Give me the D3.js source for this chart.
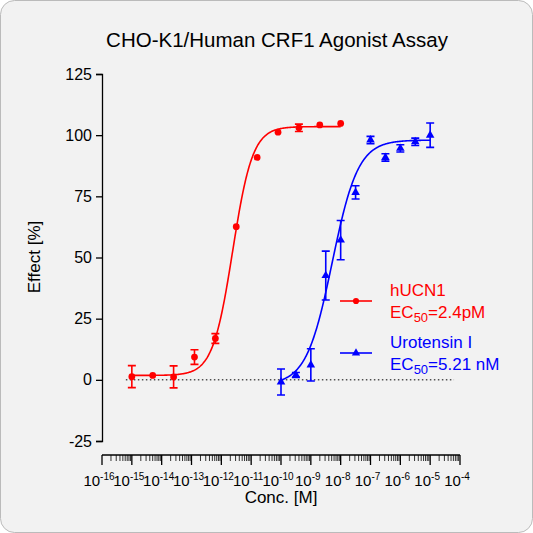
<!DOCTYPE html>
<html><head><meta charset="utf-8">
<script src="https://cdn.jsdelivr.net/npm/d3@7"></script>
<style>body{margin:0;background:#fff}svg{font-family:Arial,"Liberation Sans",sans-serif}</style>
</head><body><div id="chart"></div>
<script>
// red: hUCN1, 5-fold dilutions
var redLogC = [-15, -14.3, -13.6, -12.9, -12.2, -11.5, -10.8, -10.1, -9.4, -8.7, -8.0];
var redY = [1.3, 1.8, 1.2, 9.3, 16.9, 62.6, 90.9, 101.2, 103, 104.2, 104.8];
var redErr = [4.5, 0, 4.5, 3, 2, 0, 0, 0, 1.5, 0, 0];
var redFit = {bottom: 1.8, top: 103.5, logEC50: -11.62, hill: 1.3};
// blue: Urotensin I, half-log
var blueLogC = [-10, -9.5, -9, -8.5, -8, -7.5, -7, -6.5, -6, -5.5, -5];
var blueY = [-0.9, 2.0, 6.1, 42.6, 57.1, 76.6, 98, 90.9, 94.6, 97.3, 100];
var blueErr = [5.3, 1, 6.6, 10, 8, 2.7, 1.5, 1.5, 1.5, 1.5, 5];
var blueFit = {bottom: -2, top: 98, logEC50: -8.283, hill: 1.0};
var yTicks = [-25, 0, 25, 50, 75, 100, 125];
var xDecades = d3.range(-16, -3);

var W = 533, H = 533;
var svg = d3.select("#chart").append("svg").attr("width", W).attr("height", H);
svg.append("rect").attr("x", 0.5).attr("y", 0.5).attr("width", W - 1).attr("height", H - 1)
    .attr("rx", 14).attr("fill", "#f2f2f2").attr("stroke", "#bbb");

var x = d3.scaleLinear().domain([-16, -4]).range([102, 460]),
    y = d3.scaleLinear().domain([-25, 125]).range([441, 74]);

svg.append("text").attr("x", 277).attr("y", 47).attr("text-anchor", "middle")
    .attr("font-size", 20.5).text("CHO-K1/Human CRF1 Agonist Assay");

// y axis
svg.append("g").attr("transform", "translate(102,0)")
    .call(d3.axisLeft(y).tickValues(yTicks).tickFormat(d => String(d)).tickSize(6).tickPadding(4))
    .call(g => g.selectAll("text").attr("font-size", 16).attr("fill", "#000"))
    .call(g => g.selectAll("line,path").attr("stroke", "#000").attr("stroke-width", 1.3));
svg.append("text").attr("transform", "translate(40,257) rotate(-90)").attr("text-anchor", "middle")
    .attr("font-size", 17).text("Effect  [%]");

// x axis
var xa = svg.append("g");
var axY = 455;
xa.append("line").attr("x1", x(-16)).attr("x2", x(-4)).attr("y1", axY).attr("y2", axY)
    .attr("stroke", "#000").attr("stroke-width", 1.3);
xDecades.forEach(function(d) {
    xa.append("line").attr("x1", x(d)).attr("x2", x(d)).attr("y1", axY).attr("y2", axY + 10)
        .attr("stroke", "#000").attr("stroke-width", 1.3);
    if (d < -4) d3.range(2, 10).forEach(function(m) {
        var p = x(d + Math.log10(m));
        xa.append("line").attr("x1", p).attr("x2", p).attr("y1", axY).attr("y2", axY + 6)
            .attr("stroke", "#000").attr("stroke-width", 0.8);
    });
    var t = xa.append("text").attr("x", x(d) - 3).attr("y", axY + 31).attr("text-anchor", "middle")
        .attr("font-size", 15);
    t.append("tspan").text("10");
    t.append("tspan").attr("dy", -6).attr("font-size", 10).text("-" + (-d));
});
svg.append("text").attr("x", x(-10)).attr("y", 503).attr("text-anchor", "middle")
    .attr("font-size", 17).text("Conc. [M]");

// zero line
svg.append("line").attr("x1", x(-15.2)).attr("x2", x(-4.2)).attr("y1", y(0)).attr("y2", y(0))
    .attr("stroke", "#000").attr("stroke-dasharray", "1.5,2.5");

function curve(fit, lo, hi) {
    var pts = d3.range(lo, hi + 0.001, 0.02).map(function(l) {
        return [l, fit.bottom + (fit.top - fit.bottom) / (1 + Math.pow(10, (fit.logEC50 - l) * fit.hill))];
    });
    return d3.line().x(d => x(d[0])).y(d => y(d[1]))(pts);
}

function series(logC, vals, errs, fit, color, sym) {
    var g = svg.append("g");
    g.append("path").attr("d", curve(fit, logC[0], logC[logC.length - 1]))
        .attr("fill", "none").attr("stroke", color).attr("stroke-width", 1.6);
    logC.forEach(function(l, i) {
        var cx = x(l), cy = y(vals[i]), e = errs[i];
        if (e > 0) {
            g.append("path").attr("d", "M" + (cx - 4) + "," + y(vals[i] + e) + "h8M" + cx + "," + y(vals[i] + e) +
                "V" + y(vals[i] - e) + "M" + (cx - 4) + "," + y(vals[i] - e) + "h8")
                .attr("stroke", color).attr("stroke-width", 1.6).attr("fill", "none");
        }
        g.append("path").attr("transform", "translate(" + cx + "," + cy + ")")
            .attr("d", d3.symbol(sym, sym === d3.symbolCircle ? 36 : 32)()).attr("fill", color);
    });
}
series(redLogC, redY, redErr, redFit, "#ff0000", d3.symbolCircle);
series(blueLogC, blueY, blueErr, blueFit, "#0000ff", d3.symbolTriangle);

// legend
function legend(ly, color, sym, l1, ec) {
    svg.append("line").attr("x1", 340).attr("x2", 372).attr("y1", ly).attr("y2", ly)
        .attr("stroke", color).attr("stroke-width", 1.6);
    svg.append("path").attr("transform", "translate(356," + ly + ")")
        .attr("d", d3.symbol(sym, 30)()).attr("fill", color);
    svg.append("text").attr("x", 390).attr("y", ly - 5).attr("fill", color).attr("font-size", 17).text(l1);
    var t = svg.append("text").attr("x", 390).attr("y", ly + 17).attr("fill", color).attr("font-size", 17);
    t.append("tspan").text("EC");
    t.append("tspan").attr("dy", 4).attr("font-size", 13).text("50");
    t.append("tspan").attr("dy", -4).text(ec);
}
legend(301, "#ff0000", d3.symbolCircle, "hUCN1", "=2.4pM");
legend(353, "#0000ff", d3.symbolTriangle, "Urotensin I", "=5.21 nM");
</script></body></html>
